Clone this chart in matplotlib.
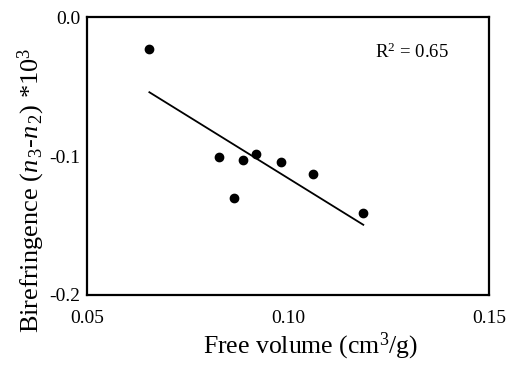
import matplotlib
matplotlib.use("Agg")
import matplotlib.pyplot as plt

# free volume (cm3/g) vs birefringence (*10^3)
free_volume = [0.0655, 0.0828, 0.0865, 0.0888, 0.0921, 0.0983, 0.1062, 0.1187]
birefringence = [-0.0227, -0.1005, -0.1302, -0.1029, -0.0986, -0.1041, -0.1130, -0.1411]

# linear trend line end points
fit_x = [0.0655, 0.1187]
fit_y = [-0.0541, -0.1495]

plt.rcParams["font.family"] = ["Liberation Serif", "DejaVu Serif"]
plt.rcParams["mathtext.fontset"] = "custom"
plt.rcParams["mathtext.rm"] = "Liberation Serif"
plt.rcParams["mathtext.it"] = "Liberation Serif:italic"

fig = plt.figure(figsize=(5.09, 3.71), dpi=100)
ax = fig.add_axes([0.171, 0.205, 0.79, 0.749])

ax.plot(fit_x, fit_y, color="black", lw=1.3)
ax.plot(free_volume, birefringence, "o", color="black", ms=6)

ax.set_xlim(0.05, 0.15)
ax.set_ylim(-0.2, 0.0)
ax.set_xticks([0.05, 0.10, 0.15])
ax.set_xticklabels(["0.05", "0.10", "0.15"])
ax.set_yticks([-0.2, -0.1, 0.0])
ax.set_yticklabels(["-0.2", "-0.1", "0.0"])
ax.tick_params(labelsize=14, length=0)
ax.tick_params(axis="x", pad=11)
ax.tick_params(axis="y", pad=5)
for s in ax.spines.values():
    s.set_linewidth(1.6)

fig.text(311 / 509, 1 - 346 / 371, "Free volume (cm$^3$/g)", fontsize=18.5,
         ha="center", va="center")
fig.text(31 / 509, 1 - 190 / 371, "Birefringence ($n_{\\,3}$-$n_{\\,2}$) *10$^3$",
         fontsize=19, rotation=90, ha="center", va="center")
ax.text(0.1217, -0.025, "R$^2$ = 0.65", fontsize=13.5, va="center")

fig.savefig("out.png", dpi=100)
